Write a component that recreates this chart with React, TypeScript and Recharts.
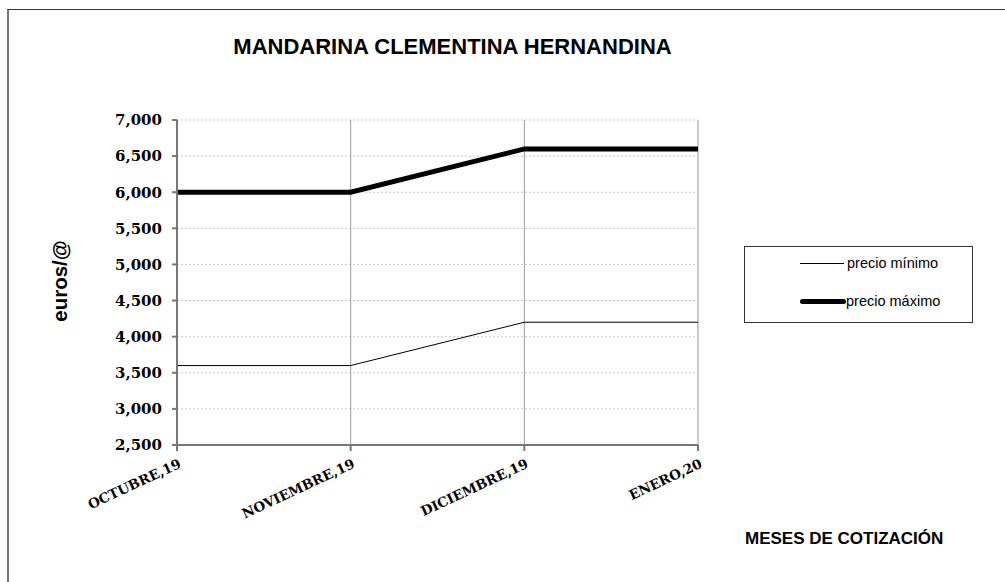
import React from 'react';
import { LineChart, Line, XAxis, YAxis, CartesianGrid } from 'recharts';

const months = ['OCTUBRE,19', 'NOVIEMBRE,19', 'DICIEMBRE,19', 'ENERO,20'];
const precioMinimo = [3.6, 3.6, 4.2, 4.2];
const precioMaximo = [6.0, 6.0, 6.6, 6.6];
const yTicks = [2.5, 3, 3.5, 4, 4.5, 5, 5.5, 6, 6.5, 7];
const seriesNames = ['precio mínimo', 'precio máximo'];

const data = months.map((m, i) => ({ month: m, min: precioMinimo[i], max: precioMaximo[i] }));

const fmt = (v: number) => v.toFixed(3).replace('.', ',');

const XTick = (props: any) => {
  const { x, y, payload } = props;
  const ax = x + 5;
  const ay = y + 14;
  return (
    <text
      x={ax}
      y={ay}
      textAnchor="end"
      transform={`rotate(-25, ${ax}, ${ay})`}
      fontFamily="'DejaVu Serif', serif"
      fontWeight="bold"
      fontSize={13.5}
      fill="#000"
    >
      {payload.value}
    </text>
  );
};

const LegendBox = () => (
  <div
    style={{
      position: 'absolute',
      left: 744,
      top: 246,
      width: 229,
      height: 77,
      border: '1px solid #333',
      background: '#fff',
      boxSizing: 'border-box',
      fontFamily: 'Arial, "Liberation Sans", sans-serif',
      fontSize: 14.5,
      color: '#000',
    }}
  >
    <div style={{ position: 'absolute', left: 55, top: 8, display: 'flex', alignItems: 'center' }}>
      <div style={{ width: 44, height: 1, background: '#000', marginRight: 3 }} />
      <span>{seriesNames[0]}</span>
    </div>
    <div style={{ position: 'absolute', left: 55, top: 46, display: 'flex', alignItems: 'center' }}>
      <div style={{ width: 46, height: 5, background: '#000', borderRadius: 2.5 }} />
      <span>{seriesNames[1]}</span>
    </div>
  </div>
);

export default function App() {
  return (
    <div style={{ position: 'absolute', left: 0, top: 0, width: 1005, height: 582, overflow: 'hidden', background: '#fff' }}>
      <div
        style={{
          position: 'absolute',
          left: 7,
          top: 9,
          width: 1020,
          height: 600,
          borderLeft: '2px solid #777',
          borderTop: '1px solid #333',
        }}
      />
      <div
        style={{
          position: 'absolute',
          left: 0,
          top: 34,
          width: 905,
          textAlign: 'center',
          fontFamily: 'Arial, "Liberation Sans", sans-serif',
          fontWeight: 'bold',
          fontSize: 22,
          color: '#000',
          whiteSpace: 'nowrap',
        }}
      >
        MANDARINA CLEMENTINA HERNANDINA
      </div>
      <div
        style={{
          position: 'absolute',
          left: 745,
          top: 529,
          fontFamily: 'Arial, "Liberation Sans", sans-serif',
          fontWeight: 'bold',
          fontSize: 17,
          color: '#000',
          whiteSpace: 'nowrap',
        }}
      >
        MESES DE COTIZACIÓN
      </div>
      <div
        style={{
          position: 'absolute',
          left: 60,
          top: 281,
          transform: 'translate(-50%, -50%) rotate(-90deg)',
          fontFamily: 'Arial, "Liberation Sans", sans-serif',
          fontWeight: 'bold',
          fontSize: 20.5,
          color: '#000',
          whiteSpace: 'nowrap',
        }}
      >
        euros/@
      </div>
      <div style={{ position: 'absolute', left: 0, top: 0 }}>
        <LineChart width={1005} height={582} data={data} margin={{ top: 120, right: 307, bottom: 107, left: 97 }}>
          <CartesianGrid stroke="#c8c8c8" strokeDasharray="2 2" vertical={false} />
          <CartesianGrid stroke="#999" horizontal={false} />
          <XAxis
            dataKey="month"
            height={30}
            stroke="#777"
            strokeWidth={2}
            tickSize={6}
            tick={<XTick />}
            interval={0}
          />
          <YAxis
            domain={[2.5, 7]}
            ticks={yTicks}
            width={80}
            stroke="#777"
            strokeWidth={2}
            tickSize={5}
            tickMargin={10}
            tickFormatter={fmt}
            tick={{ fontFamily: "'DejaVu Serif', serif", fontWeight: 'bold', fontSize: 15, fill: '#000' }}
            interval={0}
          />
          <Line dataKey="min" name={seriesNames[0]} stroke="#000" strokeWidth={1} dot={false} isAnimationActive={false} />
          <Line dataKey="max" name={seriesNames[1]} stroke="#000" strokeWidth={5} dot={false} isAnimationActive={false} />
        </LineChart>
      </div>
      <LegendBox />
    </div>
  );
}
